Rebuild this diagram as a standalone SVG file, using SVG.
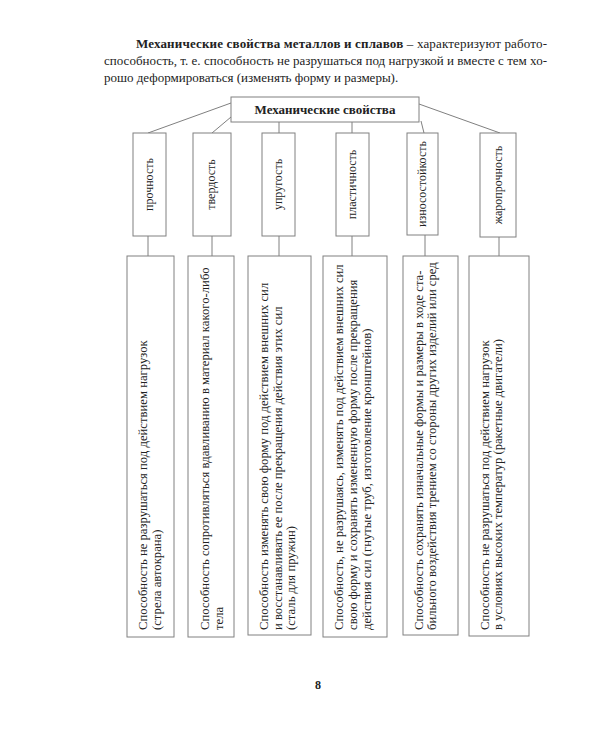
<svg xmlns="http://www.w3.org/2000/svg" width="600" height="750" viewBox="0 0 600 750">
<style>
.bx{fill:#fff;stroke:#808080;stroke-width:1}
.ln{stroke:#808080;stroke-width:1;fill:none}
.t{font-family:"Liberation Serif","Times New Roman",serif;font-size:12.7px;fill:#222}
.lb{font-family:"Liberation Serif","Times New Roman",serif;font-size:12px;fill:#222;text-anchor:middle}
.p{font-family:"Liberation Serif","Times New Roman",serif;font-size:13px;fill:#222}
.b{font-weight:bold}
</style>
<rect width="600" height="750" fill="#fff"/>
<g id="paragraph">
<text class="p" x="136" y="48" textLength="411" lengthAdjust="spacing"><tspan class="b">Механические свойства металлов и сплавов</tspan> – характеризуют работо-</text>
<text class="p" x="104" y="65" textLength="443" lengthAdjust="spacing">способность, т. е. способность не разрушаться под нагрузкой и вместе с тем хо-</text>
<text class="p" x="104" y="82">рошо деформироваться (изменять форму и размеры).</text>
</g>
<g id="connectors">
<line class="ln" x1="231" y1="103" x2="148" y2="133"/>
<line class="ln" x1="231" y1="117" x2="212" y2="133"/>
<line class="ln" x1="279" y1="122" x2="279" y2="133"/>
<line class="ln" x1="352" y1="122" x2="352" y2="133"/>
<line class="ln" x1="421" y1="121" x2="424" y2="133"/>
<line class="ln" x1="419" y1="104" x2="500" y2="133"/>
<line class="ln" x1="148" y1="236" x2="148" y2="256"/>
<line class="ln" x1="212" y1="236" x2="212" y2="256"/>
<line class="ln" x1="279" y1="236" x2="279" y2="256"/>
<line class="ln" x1="352" y1="236" x2="352" y2="256"/>
<line class="ln" x1="425" y1="235" x2="425" y2="256"/>
<line class="ln" x1="499" y1="237" x2="499" y2="256"/>
</g>
<g id="root">
<rect class="bx" x="231" y="97" width="188" height="25"/>
<text class="p b" x="325" y="114" text-anchor="middle">Механические свойства</text>
</g>
<g id="n1">
<rect class="bx" x="133" y="133" width="33" height="103"/>
<text class="lb" transform="translate(153,184.5) rotate(-90)">прочность</text>
</g>
<g id="n2">
<rect class="bx" x="193" y="133" width="38" height="103"/>
<text class="lb" transform="translate(215,184.5) rotate(-90)">твердость</text>
</g>
<g id="n3">
<rect class="bx" x="262" y="133" width="33" height="103"/>
<text class="lb" transform="translate(282,184.5) rotate(-90)">упругость</text>
</g>
<g id="n4">
<rect class="bx" x="336" y="133" width="33" height="103"/>
<text class="lb" transform="translate(356,184.5) rotate(-90)">пластичность</text>
</g>
<g id="n5">
<rect class="bx" x="407" y="133" width="31" height="102"/>
<text class="lb" transform="translate(426,184) rotate(-90)">износостойкость</text>
</g>
<g id="n6">
<rect class="bx" x="480" y="133" width="36" height="104"/>
<text class="lb" transform="translate(502,185) rotate(-90)">жаропрочность</text>
</g>
<g id="d1">
<rect class="bx" x="127" y="256" width="47" height="381"/>
<text class="t" transform="translate(147,630) rotate(-90)">Способность не разрушаться под действием нагрузок</text>
<text class="t" transform="translate(161,630) rotate(-90)">(стрела автокрана)</text>
</g>
<g id="d2">
<rect class="bx" x="188" y="256" width="46" height="381"/>
<text class="t" transform="translate(209,630) rotate(-90)">Способность сопротивляться вдавливанию в материал какого-либо</text>
<text class="t" transform="translate(223,630) rotate(-90)">тела</text>
</g>
<g id="d3">
<rect class="bx" x="248" y="256" width="63" height="379"/>
<text class="t" transform="translate(268,630) rotate(-90)">Способность изменять свою форму под действием внешних сил</text>
<text class="t" transform="translate(282,630) rotate(-90)">и восстанавливать ее после прекращения действия этих сил</text>
<text class="t" transform="translate(295,630) rotate(-90)">(сталь для пружин)</text>
</g>
<g id="d4">
<rect class="bx" x="323" y="256" width="64" height="381"/>
<text class="t" transform="translate(343,630) rotate(-90)">Способность, не разрушаясь, изменять под действием внешних сил</text>
<text class="t" transform="translate(357,630) rotate(-90)">свою форму и сохранять измененную форму после прекращения</text>
<text class="t" transform="translate(371,630) rotate(-90)">действия сил (гнутые труб, изготовление кронштейнов)</text>
</g>
<g id="d5">
<rect class="bx" x="403" y="256" width="55" height="379"/>
<text class="t" transform="translate(423,630) rotate(-90)">Способность сохранять изначальные формы и размеры в ходе ста-</text>
<text class="t" transform="translate(436,630) rotate(-90)">бильного воздействия трением со стороны других изделий или сред</text>
</g>
<g id="d6">
<rect class="bx" x="469" y="256" width="60" height="380"/>
<text class="t" transform="translate(489,630) rotate(-90)">Способность не разрушаться под действием нагрузок</text>
<text class="t" transform="translate(502,630) rotate(-90)">в условиях высоких температур (ракетные двигатели)</text>
</g>
<text class="p b" x="318" y="689" text-anchor="middle" style="font-size:12px">8</text>
</svg>
